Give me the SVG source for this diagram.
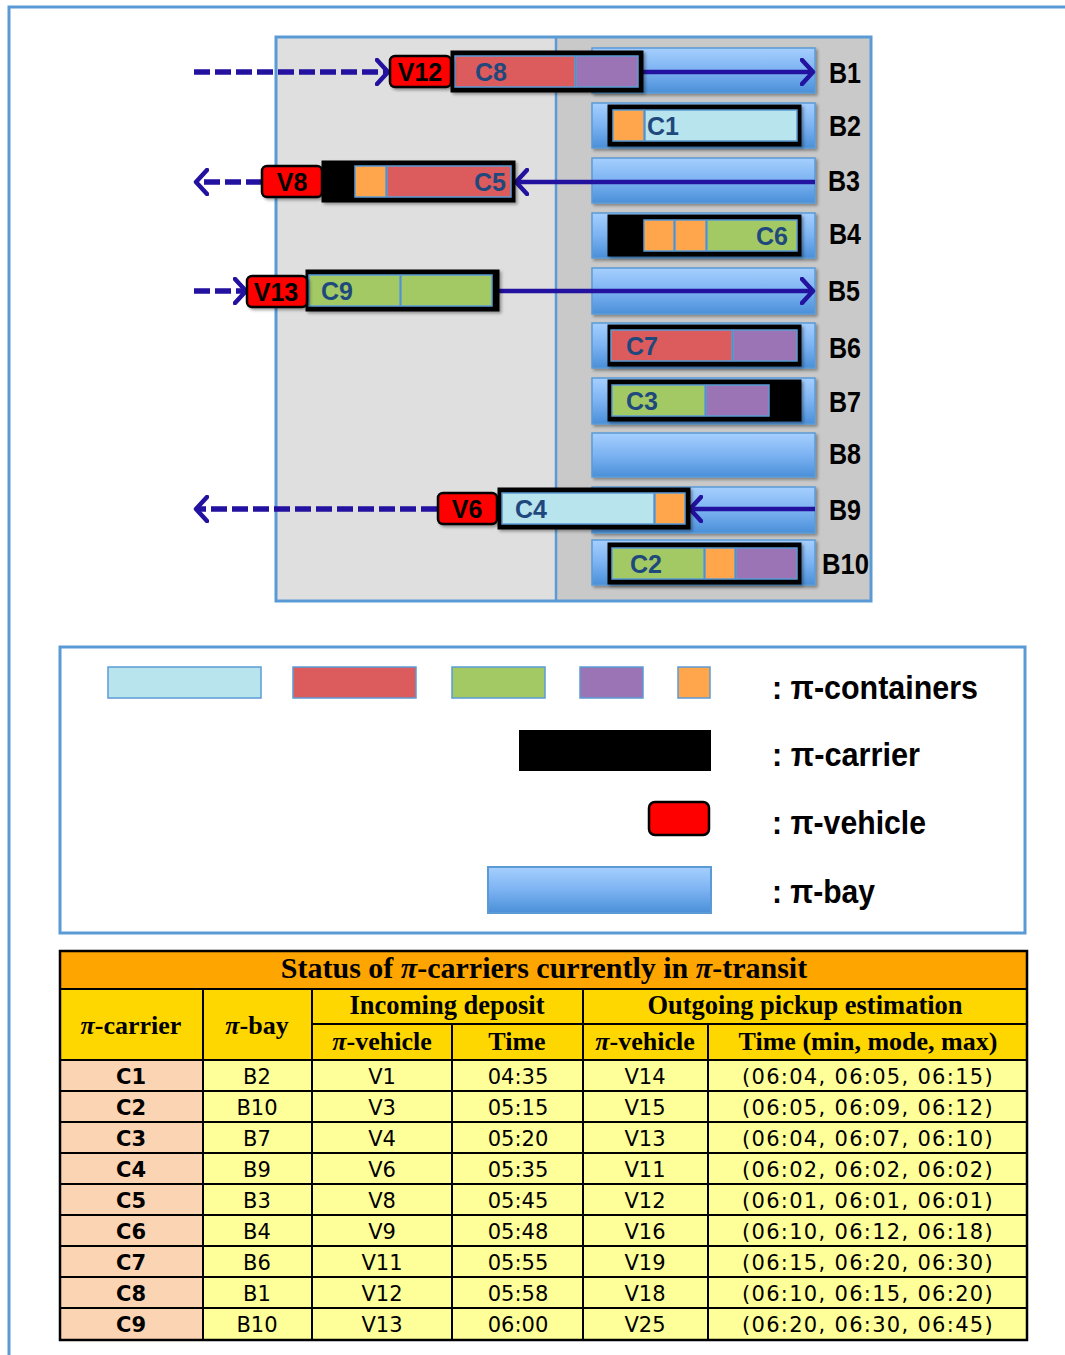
<svg xmlns="http://www.w3.org/2000/svg" width="1065" height="1355" viewBox="0 0 1065 1355">
<defs>
<linearGradient id="bayg" x1="0" y1="0" x2="0" y2="1">
<stop offset="0" stop-color="#a6cffe"/>
<stop offset="0.5" stop-color="#7cb3f2"/>
<stop offset="1" stop-color="#4a8fd8"/>
</linearGradient>
<filter id="sh" x="-10%" y="-20%" width="130%" height="160%">
<feDropShadow dx="2" dy="2" stdDeviation="1.5" flood-color="#000" flood-opacity="0.35"/>
</filter>
<marker id="chev" viewBox="0 0 16 28" refX="13" refY="14" markerWidth="16" markerHeight="28" markerUnits="userSpaceOnUse" orient="auto">
<path d="M2,2 L13,14 L2,26" fill="none" stroke="#2311a0" stroke-width="4.5" stroke-dasharray="none" stroke-linecap="round" stroke-linejoin="round"/>
</marker>
<style>
.frame{fill:none;stroke:#5b9bd5;stroke-width:3}
.bay{fill:url(#bayg);stroke:#5b9bd5;stroke-width:1.5;filter:url(#sh)}
.car{fill:#000;stroke:#000;stroke-width:3;filter:url(#sh)}
.ct{stroke:#5b9bd5;stroke-width:1.5}
.lb{fill:#b8e4ee}.rd{fill:#dc5b5d}.gr{fill:#a2c964}.pu{fill:#9a74b4}.or{fill:#ffa54c}
.veh{fill:#ff0000;stroke:#000;stroke-width:2.5;filter:url(#sh)}
.vt{font-family:"Liberation Sans",Arial,sans-serif;font-weight:bold;font-size:25px;fill:#000;text-anchor:middle}
.cl{font-family:"Liberation Sans",Arial,sans-serif;font-weight:bold;font-size:25px;fill:#1f497d}
.bl{font-family:"Liberation Sans",Arial,sans-serif;font-weight:bold;font-size:29px;fill:#000}
.sol{fill:none;stroke:#2311a0;stroke-width:4.5;marker-end:url(#chev)}
.dash{fill:none;stroke:#2311a0;stroke-width:5.5;stroke-dasharray:16 5;marker-end:url(#chev)}
.lg{font-family:"Liberation Sans",Arial,sans-serif;font-weight:bold;font-size:34px;fill:#000}
.tt{font-family:"Liberation Serif","Times New Roman",serif;font-weight:bold;fill:#000;text-anchor:middle}
.td{font-family:"DejaVu Sans",Verdana,sans-serif;font-size:21px;fill:#000;text-anchor:middle}
.tdb{font-family:"DejaVu Sans",Verdana,sans-serif;font-size:21px;font-weight:bold;fill:#000;text-anchor:middle}
.tl{stroke:#000;stroke-width:2;fill:none}
</style>
</defs>
<rect x="0" y="0" width="1065" height="1355" fill="#fff"/>
<path d="M9,1355 L9,7 L1065,7" class="frame"/>

<g id="panel">
<rect x="276" y="37" width="595" height="564" fill="#dfdfdf"/>
<rect x="556" y="37" width="315" height="564" fill="#c9c9c9"/>
<line x1="556" y1="37" x2="556" y2="601" stroke="#5b9bd5" stroke-width="2.5"/>
<rect x="276" y="37" width="595" height="564" class="frame"/>
</g>

<g id="bays">
<g id="B1"><rect class="bay" x="592" y="48" width="223" height="45"/><text class="bl" x="829" y="83" textLength="32" lengthAdjust="spacingAndGlyphs">B1</text></g>
<g id="B2"><rect class="bay" x="592" y="103" width="223" height="45"/><text class="bl" x="829" y="136" textLength="32" lengthAdjust="spacingAndGlyphs">B2</text></g>
<g id="B3"><rect class="bay" x="592" y="158" width="223" height="45"/><text class="bl" x="828" y="191" textLength="32" lengthAdjust="spacingAndGlyphs">B3</text></g>
<g id="B4"><rect class="bay" x="592" y="213" width="223" height="45"/><text class="bl" x="829" y="244" textLength="32" lengthAdjust="spacingAndGlyphs">B4</text></g>
<g id="B5"><rect class="bay" x="592" y="268" width="223" height="46"/><text class="bl" x="828" y="301" textLength="32" lengthAdjust="spacingAndGlyphs">B5</text></g>
<g id="B6"><rect class="bay" x="592" y="323" width="223" height="45"/><text class="bl" x="829" y="358" textLength="32" lengthAdjust="spacingAndGlyphs">B6</text></g>
<g id="B7"><rect class="bay" x="592" y="378" width="223" height="46"/><text class="bl" x="829" y="412" textLength="32" lengthAdjust="spacingAndGlyphs">B7</text></g>
<g id="B8"><rect class="bay" x="592" y="433" width="223" height="44"/><text class="bl" x="829" y="464" textLength="32" lengthAdjust="spacingAndGlyphs">B8</text></g>
<g id="B9"><rect class="bay" x="592" y="487" width="223" height="46"/><text class="bl" x="829" y="520" textLength="32" lengthAdjust="spacingAndGlyphs">B9</text></g>
<g id="B10"><rect class="bay" x="592" y="540" width="223" height="45"/><text class="bl" x="822" y="574" textLength="47" lengthAdjust="spacingAndGlyphs">B10</text></g>
</g>

<g id="connectors">
<path class="sol" d="M642,72 L813,72"/>
<path class="sol" d="M815,182 L516,182"/>
<path class="sol" d="M498,291 L813,291"/>
<path class="sol" d="M815,509 L690,509"/>
<path class="dash" d="M194,72 L388,72"/>
<path class="dash" d="M262,182 L196,182"/>
<path class="dash" d="M194,291 L246,291"/>
<path class="dash" d="M437,509 L196,509"/>
</g>

<g id="carriers">
<g id="C8"><rect class="car" x="452" y="52" width="190" height="39"/><rect class="ct rd" x="455" y="56" width="120" height="31"/><rect class="ct pu" x="576" y="56" width="62" height="31"/><text class="cl" x="475" y="81">C8</text></g>
<g id="C1"><rect class="car" x="609" y="106" width="191" height="39"/><rect class="ct or" x="613" y="110" width="31" height="31"/><rect class="ct lb" x="645" y="110" width="152" height="31"/><text class="cl" x="647" y="135">C1</text></g>
<g id="C5"><rect class="car" x="323" y="162" width="191" height="39"/><rect class="ct or" x="355" y="166" width="31" height="31"/><rect class="ct rd" x="387" y="166" width="124" height="31"/><text class="cl" x="506" y="191" text-anchor="end">C5</text></g>
<g id="C6"><rect class="car" x="609" y="216" width="191" height="39"/><rect class="ct or" x="644" y="220" width="30" height="31"/><rect class="ct or" x="675" y="220" width="31" height="31"/><rect class="ct gr" x="707" y="220" width="90" height="31"/><text class="cl" x="788" y="245" text-anchor="end">C6</text></g>
<g id="C9"><rect class="car" x="307" y="271" width="191" height="39"/><rect class="ct gr" x="309" y="275" width="91" height="31"/><rect class="ct gr" x="401" y="275" width="91" height="31"/><text class="cl" x="321" y="300">C9</text></g>
<g id="C7"><rect class="car" x="609" y="326" width="191" height="39"/><rect class="ct rd" x="611" y="330" width="121" height="31"/><rect class="ct pu" x="733" y="330" width="64" height="31"/><text class="cl" x="626" y="355">C7</text></g>
<g id="C3"><rect class="car" x="609" y="381" width="191" height="39"/><rect class="ct gr" x="612" y="385" width="93" height="31"/><rect class="ct pu" x="706" y="385" width="63" height="31"/><text class="cl" x="626" y="410">C3</text></g>
<g id="C4"><rect class="car" x="499" y="489" width="190" height="39"/><rect class="ct lb" x="502" y="493" width="152" height="31"/><rect class="ct or" x="655" y="493" width="30" height="31"/><text class="cl" x="515" y="518">C4</text></g>
<g id="C2"><rect class="car" x="609" y="544" width="191" height="39"/><rect class="ct gr" x="612" y="548" width="92" height="31"/><rect class="ct or" x="705" y="548" width="30" height="31"/><rect class="ct pu" x="736" y="548" width="61" height="31"/><text class="cl" x="630" y="573">C2</text></g>
</g>

<g id="vehicles">
<g id="V12"><rect class="veh" x="390" y="56" width="61" height="31" rx="5"/><text class="vt" x="420" y="81">V12</text></g>
<g id="V8"><rect class="veh" x="262" y="166" width="60" height="31" rx="5"/><text class="vt" x="292" y="191">V8</text></g>
<g id="V13"><rect class="veh" x="247" y="276" width="60" height="31" rx="5"/><text class="vt" x="276" y="301">V13</text></g>
<g id="V6"><rect class="veh" x="438" y="493" width="59" height="31" rx="5"/><text class="vt" x="467" y="518">V6</text></g>
</g>

<g id="legend">
<rect x="60" y="647" width="965" height="286" class="frame" fill="#fff"/>
<rect class="ct lb" x="108" y="667" width="153" height="31" stroke-width="2.5"/>
<rect class="ct rd" x="293" y="667" width="123" height="31" stroke-width="2.5"/>
<rect class="ct gr" x="452" y="667" width="93" height="31" stroke-width="2.5"/>
<rect class="ct pu" x="580" y="667" width="63" height="31" stroke-width="2.5"/>
<rect class="ct or" x="678" y="667" width="32" height="31" stroke-width="2.5"/>
<text class="lg" x="772" y="699" textLength="206" lengthAdjust="spacingAndGlyphs">: π-containers</text>
<rect x="519" y="730" width="192" height="41" fill="#000"/>
<text class="lg" x="772" y="766" textLength="148" lengthAdjust="spacingAndGlyphs">: π-carrier</text>
<rect x="649" y="802" width="60" height="33" rx="6" fill="#ff0000" stroke="#000" stroke-width="2.5"/>
<text class="lg" x="772" y="834" textLength="154" lengthAdjust="spacingAndGlyphs">: π-vehicle</text>
<rect x="488" y="867" width="223" height="46" fill="url(#bayg)" stroke="#5b9bd5" stroke-width="2"/>
<text class="lg" x="772" y="903" textLength="103" lengthAdjust="spacingAndGlyphs">: π-bay</text>
</g>

<g id="table">
<rect x="60" y="951" width="967" height="38" fill="#ffa500"/>
<rect x="60" y="989" width="967" height="71" fill="#ffd700"/>
<rect x="60" y="1060" width="143" height="280" fill="#fbd4b4"/>
<rect x="203" y="1060" width="824" height="280" fill="#ffff99"/>
<text class="tt" x="544" y="978" font-size="30">Status of <tspan font-style="italic">π</tspan>-carriers currently in <tspan font-style="italic">π</tspan>-transit</text>
<text class="tt" x="447" y="1014" font-size="26.5">Incoming deposit</text>
<text class="tt" x="805" y="1014" font-size="26.5">Outgoing pickup estimation</text>
<text class="tt" x="131" y="1034" font-size="26"><tspan font-style="italic">π</tspan>-carrier</text>
<text class="tt" x="257" y="1034" font-size="26"><tspan font-style="italic">π</tspan>-bay</text>
<text class="tt" x="382" y="1050" font-size="26"><tspan font-style="italic">π</tspan>-vehicle</text>
<text class="tt" x="517" y="1050" font-size="26">Time</text>
<text class="tt" x="645" y="1050" font-size="26"><tspan font-style="italic">π</tspan>-vehicle</text>
<text class="tt" x="868" y="1050" font-size="26">Time (min, mode, max)</text>
<path class="tl" d="M60,989 H1027 M312,1024 H1027 M60,1060 H1027 M60,1091 H1027 M60,1122 H1027 M60,1153 H1027 M60,1184 H1027 M60,1215 H1027 M60,1246 H1027 M60,1277 H1027 M60,1308 H1027 M203,989 V1340 M312,989 V1340 M452,1024 V1340 M583,989 V1340 M708,1024 V1340"/>
<rect x="60" y="951" width="967" height="389" fill="none" stroke="#000" stroke-width="2.5"/>
<g>
<text class="tdb" x="131" y="1084">C1</text><text class="td" x="257" y="1084">B2</text><text class="td" x="382" y="1084">V1</text><text class="td" x="518" y="1084">04:35</text><text class="td" x="645" y="1084">V14</text><text class="td" x="868" y="1084" letter-spacing="1.3">(06:04, 06:05, 06:15)</text>
<text class="tdb" x="131" y="1115">C2</text><text class="td" x="257" y="1115">B10</text><text class="td" x="382" y="1115">V3</text><text class="td" x="518" y="1115">05:15</text><text class="td" x="645" y="1115">V15</text><text class="td" x="868" y="1115" letter-spacing="1.3">(06:05, 06:09, 06:12)</text>
<text class="tdb" x="131" y="1146">C3</text><text class="td" x="257" y="1146">B7</text><text class="td" x="382" y="1146">V4</text><text class="td" x="518" y="1146">05:20</text><text class="td" x="645" y="1146">V13</text><text class="td" x="868" y="1146" letter-spacing="1.3">(06:04, 06:07, 06:10)</text>
<text class="tdb" x="131" y="1177">C4</text><text class="td" x="257" y="1177">B9</text><text class="td" x="382" y="1177">V6</text><text class="td" x="518" y="1177">05:35</text><text class="td" x="645" y="1177">V11</text><text class="td" x="868" y="1177" letter-spacing="1.3">(06:02, 06:02, 06:02)</text>
<text class="tdb" x="131" y="1208">C5</text><text class="td" x="257" y="1208">B3</text><text class="td" x="382" y="1208">V8</text><text class="td" x="518" y="1208">05:45</text><text class="td" x="645" y="1208">V12</text><text class="td" x="868" y="1208" letter-spacing="1.3">(06:01, 06:01, 06:01)</text>
<text class="tdb" x="131" y="1239">C6</text><text class="td" x="257" y="1239">B4</text><text class="td" x="382" y="1239">V9</text><text class="td" x="518" y="1239">05:48</text><text class="td" x="645" y="1239">V16</text><text class="td" x="868" y="1239" letter-spacing="1.3">(06:10, 06:12, 06:18)</text>
<text class="tdb" x="131" y="1270">C7</text><text class="td" x="257" y="1270">B6</text><text class="td" x="382" y="1270">V11</text><text class="td" x="518" y="1270">05:55</text><text class="td" x="645" y="1270">V19</text><text class="td" x="868" y="1270" letter-spacing="1.3">(06:15, 06:20, 06:30)</text>
<text class="tdb" x="131" y="1301">C8</text><text class="td" x="257" y="1301">B1</text><text class="td" x="382" y="1301">V12</text><text class="td" x="518" y="1301">05:58</text><text class="td" x="645" y="1301">V18</text><text class="td" x="868" y="1301" letter-spacing="1.3">(06:10, 06:15, 06:20)</text>
<text class="tdb" x="131" y="1332">C9</text><text class="td" x="257" y="1332">B10</text><text class="td" x="382" y="1332">V13</text><text class="td" x="518" y="1332">06:00</text><text class="td" x="645" y="1332">V25</text><text class="td" x="868" y="1332" letter-spacing="1.3">(06:20, 06:30, 06:45)</text>
</g>
</g>
</svg>
